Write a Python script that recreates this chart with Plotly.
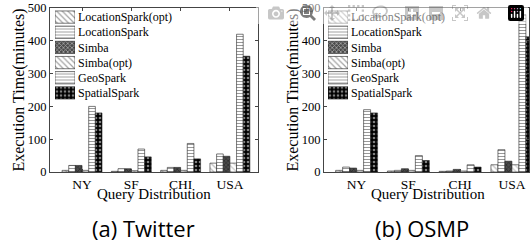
import plotly.graph_objects as go

categories = ["NY", "SF", "CHI", "USA"]
series_names = ["LocationSpark(opt)", "LocationSpark", "Simba", "Simba(opt)", "GeoSpark", "SpatialSpark"]

twitter_ls_opt = [5, 2, 5, 27]
twitter_ls = [20, 10, 14, 55]
twitter_simba = [20, 10, 14, 48]
twitter_simba_opt = [5, 4, 5, 27]
twitter_geospark = [200, 70, 87, 420]
twitter_spatialspark = [180, 46, 40, 353]

osmp_ls_opt = [5, 3, 2, 22]
osmp_ls = [15, 5, 3, 68]
osmp_simba = [12, 10, 8, 33]
osmp_simba_opt = [5, 5, 3, 22]
osmp_geospark = [190, 50, 22, 480]
osmp_spatialspark = [180, 35, 15, 412]

y_ticks = [0, 100, 200, 300, 400, 500]

shapes_ = ["\\", "-", "x", "\\", "-", "."]
bgs = ["white", "white", "#4a4a4a", "white", "white", "black"]
fgs = ["#777777", "#333333", "#111111", "#999999", "#333333", "white"]
sizes = [4, 3, 3, 4, 3, 4]
solid = [0.3, 0.35, 0.45, 0.3, 0.35, 0.35]

twitter = [twitter_ls_opt, twitter_ls, twitter_simba, twitter_simba_opt, twitter_geospark, twitter_spatialspark]
osmp = [osmp_ls_opt, osmp_ls, osmp_simba, osmp_simba_opt, osmp_geospark, osmp_spatialspark]

FW, FH = 530, 244
SERIF = "Liberation Serif, Times New Roman, Times, serif"
SANS = "Open Sans, sans-serif"


def fx(x):
    return x / FW


def fy(y):
    return 1 - y / FH


fig = go.Figure()


def pat(i):
    return dict(shape=shapes_[i], bgcolor=bgs[i], fgcolor=fgs[i], size=sizes[i], solidity=solid[i])


for xa, ya, data in (("x", "y", twitter), ("x2", "y2", osmp)):
    for i, (name, vals) in enumerate(zip(series_names, data)):
        fig.add_trace(go.Bar(x=categories, y=vals, name=name, xaxis=xa, yaxis=ya, showlegend=False,
                             marker=dict(color=bgs[i], pattern=pat(i),
                                         line=dict(color="#222222", width=0.6))))

# custom legends: one swatch bar per series on small dedicated axes
for xa, ya in (("x3", "y3"), ("x4", "y4")):
    fig.add_trace(go.Bar(x=[1] * len(series_names), y=series_names, orientation="h",
                         xaxis=xa, yaxis=ya, showlegend=False, hoverinfo="skip",
                         marker=dict(color=bgs, pattern=dict(shape=shapes_, bgcolor=bgs, fgcolor=fgs,
                                                             size=sizes, solidity=solid),
                                     line=dict(color="#222222", width=0.6))))

axis_common = dict(showline=True, linecolor="#444444", linewidth=1, mirror="ticks",
                   ticks="inside", ticklen=3, tickcolor="#444444", showgrid=False, zeroline=False,
                   automargin=False, ticklabeloverflow="allow")

ydom = [fy(172), fy(8)]

leg_x = dict(range=[0, 1], visible=False, fixedrange=True, automargin=False)
leg_y = dict(autorange="reversed", type="category", side="right", showline=False, ticks="",
             showgrid=False, zeroline=False, tickfont=dict(family=SERIF, size=12, color="black"),
             ticklabelstandoff=2, automargin=False)


def ann(text, x, y, size, family=SERIF, angle=0):
    return dict(text=text, x=fx(x), y=fy(y), xref="paper", yref="paper", xanchor="center",
                yanchor="middle", showarrow=False, textangle=angle,
                font=dict(family=family, size=size, color="black"))


fig.update_layout(
    width=FW, height=FH,
    margin=dict(l=0, r=0, t=0, b=0, pad=0, autoexpand=False),
    paper_bgcolor="white", plot_bgcolor="rgba(0,0,0,0)",
    barmode="group", bargap=0.19, bargroupgap=0,
    showlegend=False,
    xaxis=dict(domain=[fx(50), fx(258)], anchor="y", range=[-0.65, 3.57],
               tickfont=dict(family=SERIF, size=13.5, color="black"), **axis_common),
    yaxis=dict(domain=ydom, anchor="x", range=[0, 500], tickvals=y_ticks,
               tickfont=dict(family=SERIF, size=12.5, color="black"), **axis_common),
    xaxis2=dict(domain=[fx(324), fx(529)], anchor="y2", range=[-0.63, 3.33],
                tickfont=dict(family=SERIF, size=13.5, color="black"), **axis_common),
    yaxis2=dict(domain=ydom, anchor="x2", range=[0, 500], tickvals=y_ticks,
                tickfont=dict(family=SERIF, size=12.5, color="black"), **axis_common),
    xaxis3=dict(domain=[fx(55), fx(75)], anchor="y3", **leg_x),
    yaxis3=dict(domain=[fy(100.5), fy(9.5)], anchor="x3", **leg_y),
    xaxis4=dict(domain=[fx(328), fx(348)], anchor="y4", **leg_x),
    yaxis4=dict(domain=[fy(100.5), fy(9.5)], anchor="x4", **leg_y),
    annotations=[
        ann("Query Distribution", 154, 194, 15),
        ann("Query Distribution", 428, 194, 15),
        ann("Execution Time(minutes)", 18.5, 90, 16, angle=-90),
        ann("Execution Time(minutes)", 292.5, 90, 16, angle=-90),
        ann("(a) Twitter", 143.5, 228, 22, SANS),
        ann("(b) OSMP", 422, 228, 22, SANS),
    ],
)

# remove the browser's default 8px body margin so the figure fills the window exactly
fig.write_html("out.html",
               post_script="document.body.style.margin='0';document.body.style.overflow='hidden';")
